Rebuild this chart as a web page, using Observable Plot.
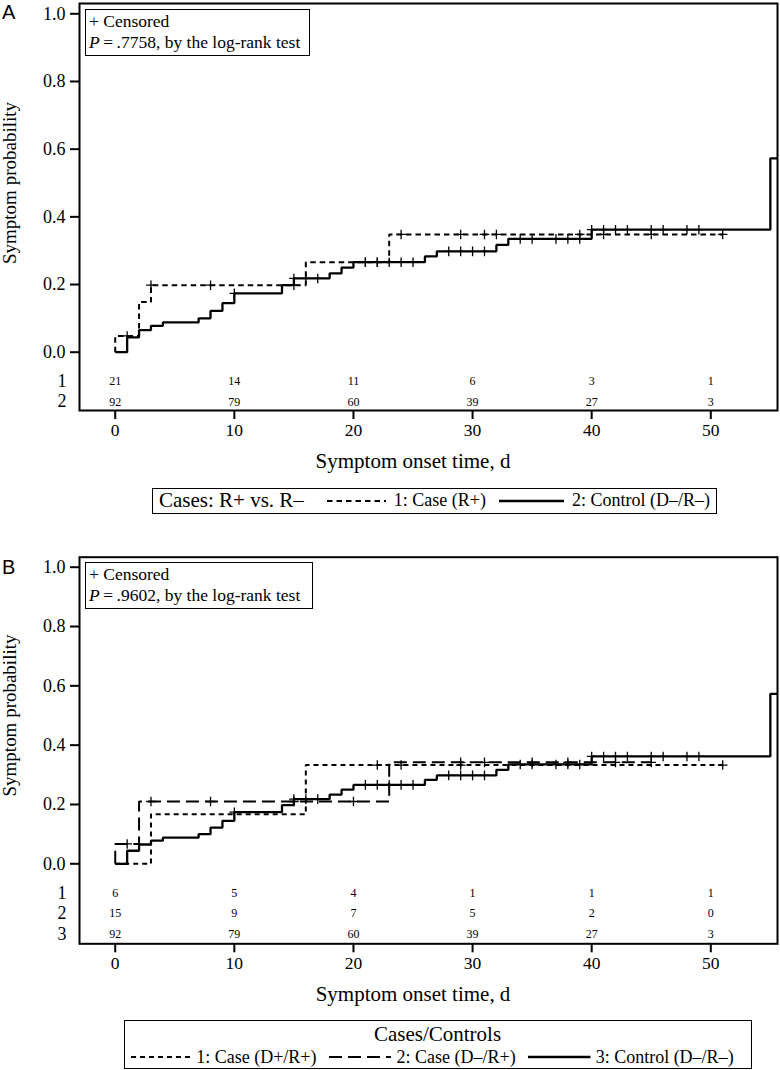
<!DOCTYPE html>
<html>
<head>
<meta charset="utf-8">
<script src="https://cdn.jsdelivr.net/npm/d3@7"></script>
<script src="https://cdn.jsdelivr.net/npm/@observablehq/plot@0.6"></script>
<style>
  body { margin: 0; background: #fff; font-family: "Liberation Serif", serif; color: #000; }
  #page { position: relative; width: 780px; height: 1070px; overflow: hidden; background: #fff; }
  #page svg text, #page svg tspan { font-family: "Liberation Serif", serif !important; }
  .panel { position: absolute; left: 0; }
  .tag { position: absolute; font-family: "Liberation Sans", sans-serif; font-size: 20px; line-height: 1; }
  .inset { position: absolute; box-sizing: border-box; border: 1.3px solid #000; background: #fff;
           font-family: "Liberation Serif", serif; font-size: 17.5px; line-height: 21px; padding: 0.6px 3px; white-space: nowrap; }
  .legend { position: absolute; box-sizing: border-box; border: 1.3px solid #000; background: #fff; white-space: nowrap;
            font-family: "Liberation Serif", serif; }
  .legend .row { display: flex; align-items: center; }
  .legend .title { font-size: 21px; }
  .legend .item { font-size: 18px; }
  .legend svg { display: block; }
</style>
</head>
<body>
<div id="page"></div>
<script>
// ---------- data ----------
const xTicks = [0, 10, 20, 30, 40, 50];
const yTicks = [0, 0.2, 0.4, 0.6, 0.8, 1.0];
const xDomain = [-3, 55.6];
const yLabel = "Symptom probability";
const xLabel = "Symptom onset time, d";

// Control (D−/R−) — same in both panels
const controlTimes = [0, 1, 2, 3, 4, 7, 8, 9, 10, 14, 15, 18, 19, 20, 26, 27, 32, 33, 40, 55, 55.6];
const controlProb  = [0, 0.044, 0.065, 0.078, 0.088, 0.100, 0.122, 0.145, 0.174, 0.198, 0.218, 0.233, 0.250, 0.266, 0.283, 0.298, 0.317, 0.335, 0.362, 0.573, 0.573];
const controlCensored = [10, 15, 16, 17, 21, 22, 23, 24, 25, 28, 29, 30, 31, 34, 35, 37, 38, 39, 40, 41, 42, 43, 45, 46, 48, 49];

// Panel A: Case (R+)
const caseRTimes = [0, 0, 2, 3, 16, 23, 51];
const caseRProb  = [0, 0.048, 0.148, 0.198, 0.266, 0.348, 0.348];
const caseRCensored = [1, 3, 8, 15, 21, 22, 24, 29, 31, 32, 39, 41, 45, 51];

// Panel B: Case (D+/R+)
const casePPTimes = [0, 3, 16, 51];
const casePPProb  = [0, 0.167, 0.333, 0.333];
const casePPCensored = [22, 24, 29, 51];

// Panel B: Case (D−/R+)
const caseMPTimes = [0, 0, 2, 23, 45];
const caseMPProb  = [0, 0.067, 0.210, 0.342, 0.342];
const caseMPCensored = [1, 3, 8, 15, 20, 29, 31, 35, 38, 42, 45];

// Number at risk
const riskTimes = xTicks;
const riskRowsA = ["1", "2"];
const riskA1 = [21, 14, 11, 6, 3, 1];
const riskA2 = [92, 79, 60, 39, 27, 3];
const riskRowsB = ["1", "2", "3"];
const riskB1 = [6, 5, 4, 1, 1, 1];
const riskB2 = [15, 9, 7, 5, 2, 0];
const riskB3 = [92, 79, 60, 39, 27, 3];

const pValueA = ".7758";
const pValueB = ".9602";

// ---------- helpers ----------
function stepValue(times, probs, t) {
  let v = probs[0];
  for (let i = 0; i < times.length; i++) if (times[i] <= t) v = probs[i];
  return v;
}

// thin "+" censor symbol (arm half-length = r)
const plusSymbol = {
  draw(context, size) {
    const r = Math.sqrt(size / Math.PI);
    context.moveTo(-r, 0); context.lineTo(r, 0);
    context.moveTo(0, -r); context.lineTo(0, r);
  }
};

const FONT = "Liberation Serif";

function makePanel({curves, risk, rows, height, marginTop, insetTop, insetBottom}) {
  const marks = [
    Plot.frame({stroke: "#000", strokeWidth: 2}),
    Plot.axisY({ticks: yTicks, tickFormat: d3.format(".1f"), tickSize: 9, tickPadding: 5,
                strokeWidth: 2, fontSize: 18, fontFamily: FONT, label: null}),
    Plot.axisX({ticks: xTicks, tickFormat: d3.format("d"), tickSize: 9, tickPadding: 4,
                strokeWidth: 2, fontSize: 17.5, fontFamily: FONT, label: null}),
    Plot.text([yLabel], {frameAnchor: "left", y: d3.mean(yTicks), dx: -77, rotate: -90,
                         textAnchor: "middle", lineAnchor: "top", fontSize: 19, fontFamily: FONT}),
    Plot.text([xLabel], {frameAnchor: "bottom", x: d3.mean(xTicks), dy: 57, fontSize: 21, fontFamily: FONT})
  ];
  risk.forEach((vals, i) => {
    const off = 29 + 20.5 * i;
    marks.push(Plot.text([rows[i]], {frameAnchor: "left", y: 0, dx: -13, dy: off,
                                     textAnchor: "end", fontSize: 18, fontFamily: FONT}));
    marks.push(Plot.text(riskTimes, {x: d => d, y: 0, text: (d, j) => String(vals[j]),
                                     dy: off, fontSize: 12, fontFamily: FONT}));
  });
  curves.forEach(c => {
    const pts = c.times.map((t, i) => ({t, p: c.prob[i]}));
    marks.push(Plot.line(pts, {x: "t", y: "p", curve: "step-after", stroke: "#000",
      strokeWidth: c.width, strokeDasharray: c.dash, strokeLinejoin: "miter", strokeLinecap: "butt"}));
    const cens = c.censored.map(t => ({t, p: stepValue(c.times, c.prob, t)}));
    marks.push(Plot.dot(cens, {x: "t", y: "p", symbol: plusSymbol, r: 4.8, stroke: "#000", strokeWidth: 1.3}));
  });
  return Plot.plot({
    width: 780, height, marginLeft: 79, marginRight: 3, marginTop, marginBottom: 67,
    x: {domain: xDomain},
    y: {domain: [0, 1], insetTop, insetBottom},
    style: {fontFamily: FONT, color: "#000", background: "transparent", overflow: "visible"},
    marks
  });
}

function sample(width, dash, sw) {
  return `<svg width="${width}" height="10"><line x1="0" y1="5" x2="${width}" y2="5" stroke="#000" stroke-width="${sw}" ${dash ? `stroke-dasharray="${dash}"` : ""}/></svg>`;
}

const DASH_A = "5.5,4";
const DOT_B = "5,4";
const LONG_B = "13,6";

// ---------- build ----------
const page = document.getElementById("page");

const plotA = makePanel({
  curves: [
    {times: caseRTimes, prob: caseRProb, censored: caseRCensored, dash: DASH_A, width: 2},
    {times: controlTimes, prob: controlProb, censored: controlCensored, dash: null, width: 2.3}
  ],
  risk: [riskA1, riskA2], rows: riskRowsA,
  height: 477, marginTop: 3, insetTop: 10.3, insetBottom: 58.3
});
const wrapA = document.createElement("div");
wrapA.className = "panel"; wrapA.style.top = "0px";
wrapA.appendChild(plotA);
page.appendChild(wrapA);

const plotB = makePanel({
  curves: [
    {times: casePPTimes, prob: casePPProb, censored: casePPCensored, dash: DOT_B, width: 2},
    {times: caseMPTimes, prob: caseMPProb, censored: caseMPCensored, dash: LONG_B, width: 2},
    {times: controlTimes, prob: controlProb, censored: controlCensored, dash: null, width: 2.3}
  ],
  risk: [riskB1, riskB2, riskB3], rows: riskRowsB,
  height: 470.3, marginTop: 16.7, insetTop: 10, insetBottom: 80
});
const wrapB = document.createElement("div");
wrapB.className = "panel"; wrapB.style.top = "540px";
wrapB.appendChild(plotB);
page.appendChild(wrapB);

// panel tags
page.insertAdjacentHTML("beforeend", `<div class="tag" style="left:2px;top:2px">A</div>`);
page.insertAdjacentHTML("beforeend", `<div class="tag" style="left:2px;top:557px">B</div>`);

// inset boxes
page.insertAdjacentHTML("beforeend",
  `<div class="inset" style="left:85px;top:9.3px;width:225px;height:46.4px">+ Censored<br><i>P</i>&#8201;=&#8201;${pValueA}, by the log-rank test</div>`);
page.insertAdjacentHTML("beforeend",
  `<div class="inset" style="left:85px;top:562.3px;width:228px;height:46.7px">+ Censored<br><i>P</i>&#8201;=&#8201;${pValueB}, by the log-rank test</div>`);

// legend A
page.insertAdjacentHTML("beforeend",
  `<div class="legend" style="left:152px;top:488px;width:565px;height:26px">
     <div class="row" style="height:23.4px">
       <span class="title" style="margin-left:6px;line-height:23px">Cases: R+ vs. R–</span>
       <span style="margin-left:23px">${sample(59, DASH_A, 2)}</span>
       <span class="item" style="margin-left:8px">1: Case (R+)</span>
       <span style="margin-left:13px">${sample(65, null, 2.3)}</span>
       <span class="item" style="margin-left:8px">2: Control (D–/R–)</span>
     </div>
   </div>`);

// legend B
page.insertAdjacentHTML("beforeend",
  `<div class="legend" style="left:123.5px;top:1020px;width:628px;height:49.3px">
     <div class="title" style="text-align:center;line-height:23px;padding-top:2px">Cases/Controls</div>
     <div class="row" style="height:22px">
       <span style="margin-left:6.2px">${sample(61.5, DOT_B, 2)}</span>
       <span class="item" style="margin-left:4px">1: Case (D+/R+)</span>
       <span style="margin-left:12.5px">${sample(62.5, LONG_B, 2)}</span>
       <span class="item" style="margin-left:5px">2: Case (D–/R+)</span>
       <span style="margin-left:12.5px">${sample(62.5, null, 2.3)}</span>
       <span class="item" style="margin-left:5px">3: Control (D–/R–)</span>
     </div>
   </div>`);
</script>
</body>
</html>
